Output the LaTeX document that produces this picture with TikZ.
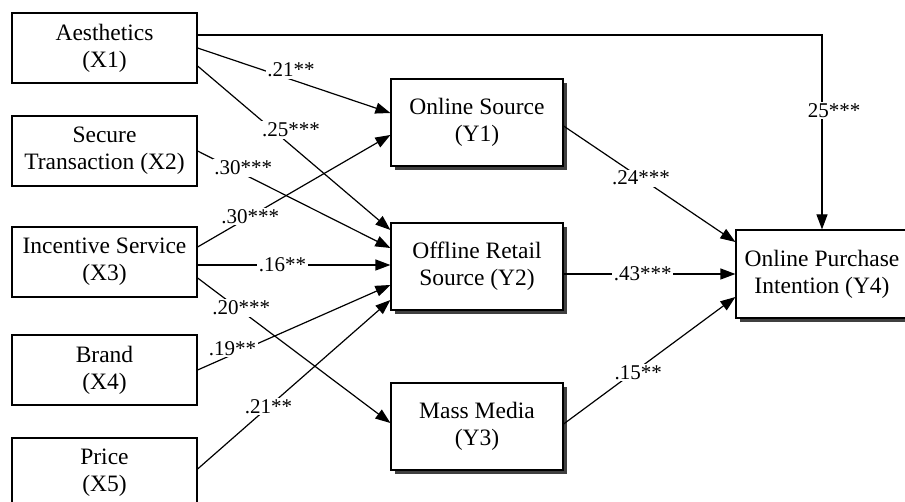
\documentclass[tikz,border=0pt]{standalone}
\usepackage{fontspec}
\setmainfont{Liberation Serif}
\usetikzlibrary{arrows.meta,shadows}
\begin{document}
\begin{tikzpicture}[x=1pt,y=-1pt,
  box/.style={draw, line width=1.2pt, fill=white, align=center, inner sep=0pt,
    font=\fontsize{23.5}{27}\selectfont, minimum height=70pt, minimum width=185pt},
  sbox/.style={box, minimum width=172pt, minimum height=87pt,
    drop shadow={shadow xshift=4pt, shadow yshift=-4pt, fill=black!75, opacity=1}},
  arr/.style={line width=1.2pt, -{Triangle[length=15pt,width=11pt]}},
  lab/.style={fill=white, inner sep=1.5pt, font=\fontsize{21}{24}\selectfont}]
\fill[white] (0,0) rectangle (905,502);
\useasboundingbox (0,0) rectangle (905,502);

\node[box] (x1) at (104.5,48) {Aesthetics\\(X1)};
\node[box] (x2) at (104.5,151) {Secure\\Transaction (X2)};
\node[box] (x3) at (104.5,262) {Incentive Service\\(X3)};
\node[box] (x4) at (104.5,370) {Brand\\(X4)};
\node[box] (x5) at (104.5,473) {Price\\(X5)};

\node[sbox] (y1) at (477,122.5) {Online Source\\(Y1)};
\node[sbox] (y2) at (477,266.5) {Offline Retail\\Source (Y2)};
\node[sbox] (y3) at (477,426.5) {Mass Media\\(Y3)};
\node[sbox, minimum height=88pt] (y4) at (822,274) {Online Purchase\\Intention (Y4)};

\draw[arr] ([yshift=13pt]x1.east) -| node[lab,pos=0.695,xshift=12pt]{25***} (y4.north);
\draw[arr] (x1.east) -- node[lab,pos=0.485,yshift=9.5pt]{.21**} ([yshift=9.5pt]y1.west);
\draw[arr] ([yshift=-18pt]x1.east) -- node[lab,pos=0.485,yshift=15.5pt]{.25***} ([yshift=36.5pt]y2.west);
\draw[arr] (x2.east) -- node[lab,pos=0.237,yshift=6pt]{.30***} ([yshift=18.5pt]y2.west);
\draw[arr] ([yshift=15pt]x3.east) -- node[lab,pos=0.273]{.30***} ([yshift=-12.5pt]y1.west);
\draw[arr] ([yshift=-3pt]x3.east) -- node[lab,pos=0.44]{.16**} ([yshift=-3pt]x3.east -| y2.west);
\draw[arr] ([yshift=-16pt]x3.east) -- node[lab,pos=0.227,yshift=3pt]{.20***} ([yshift=3.5pt]y3.west);
\draw[arr] (x4.east) -- node[lab,pos=0.181,yshift=6pt]{.19**} ([yshift=-18.5pt]y2.west);
\draw[arr] ([yshift=4pt]x5.east) -- node[lab,pos=0.368]{.21**} ([yshift=-33.5pt]y2.west);
\draw[arr] ([yshift=-3.5pt]y1.east) -- node[lab,pos=0.45]{.24***} ([yshift=32pt]y4.west);
\draw[arr] ([yshift=-7.5pt]y2.east) -- node[lab,pos=0.46]{.43***} ([yshift=-7.5pt]y2.east -| y4.west);
\draw[arr] ([yshift=2.5pt]y3.east) -- node[lab,pos=0.434,yshift=-4pt]{.15**} ([yshift=-23pt]y4.west);
\end{tikzpicture}
\end{document}
